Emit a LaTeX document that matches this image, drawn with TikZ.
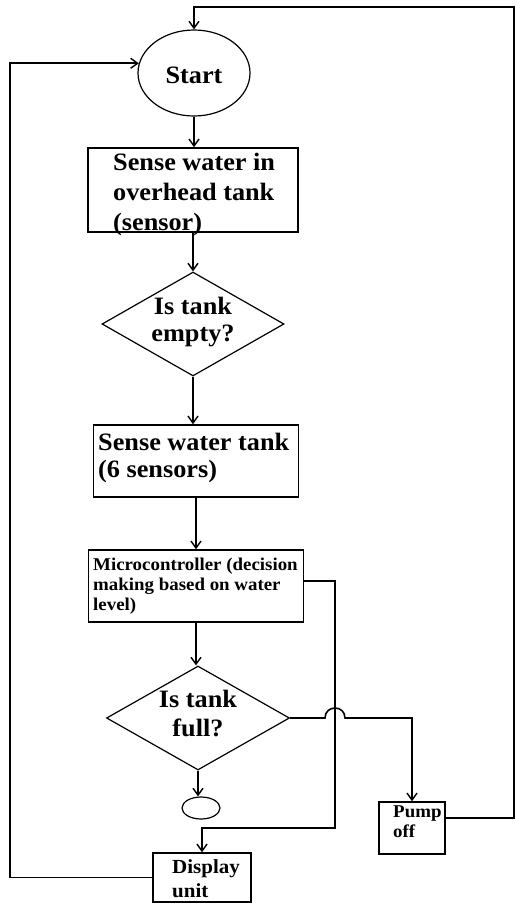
\documentclass[tikz,border=0pt]{standalone}
\usepackage{fontspec}
\setmainfont{Liberation Serif}[FakeStretch=1.05]
\usetikzlibrary{shapes.geometric,arrows.meta}
\begin{document}
\begin{tikzpicture}[x=1pt,y=-1pt,
  box/.style={draw, line width=1.5pt, rectangle, inner sep=0pt},
  dia/.style={draw, line width=1.2pt, diamond, inner sep=0pt},
  ell/.style={draw, line width=1.2pt, ellipse, inner sep=0pt},
  con/.style={line width=1.6pt},
  arr/.style={con, -{Straight Barb[length=7pt,width=10pt,line width=1.4pt]}},
  txt/.style={inner sep=0pt, align=left, anchor=north west},
  big/.style={font=\bfseries\fontsize{25}{30}\selectfont},
  mid/.style={font=\bfseries\fontsize{25}{27}\selectfont},
  small/.style={font=\bfseries\fontsize{18}{20}\selectfont}
]
\useasboundingbox (0,0) rectangle (516,905);
% shapes
\node[ell, minimum width=112pt, minimum height=86pt] (start) at (194,73) {};
\node[box, minimum width=210pt, minimum height=84pt] (b1) at (193,190) {};
\node[dia, minimum width=182pt, minimum height=104pt] (d1) at (193,324) {};
\node[box, minimum width=205pt, minimum height=72pt] (b2) at (196,461) {};
\node[box, minimum width=215pt, minimum height=72pt] (b3) at (196,586) {};
\node[dia, minimum width=183pt, minimum height=104pt] (d2) at (198,718) {};
\node[ell, minimum width=38pt, minimum height=22pt] (end) at (201,808) {};
\node[box, minimum width=66pt, minimum height=52pt] (pump) at (412,828) {};
\node[box, minimum width=98pt, minimum height=49pt] (disp) at (202,877.5) {};
% texts
\node[big, inner sep=0pt] (tstart) at (194,75) {Start};
\node[txt, big] (t1) at (113,153) {Sense water in\\overhead tank\\(sensor)};
\node[mid, inner sep=0pt, align=center] (td1) at (193,322) {Is tank\\empty?};
\node[txt, mid] (t2) at (98,433) {Sense water tank\\(6 sensors)};
\node[txt, small] (t3) at (93,558) {Microcontroller (decision\\making based on water\\level)};
\node[inner sep=0pt, align=center, font=\bfseries\fontsize{25}{29}\selectfont] (td2) at (198,713) {Is tank\\full?};
\node[txt, small] (tp) at (393,806) {Pump\\off};
\node[txt, font=\bfseries\fontsize{20}{24}\selectfont] (tdsp) at (172,859) {Display\\unit};
% connectors
\coordinate (R) at (514,7);
\coordinate (L) at (10,0);
\coordinate (V) at (335,828);
\draw[arr] (start.south) -- (start.south |- b1.north);
\draw[arr] (b1.south) -- (d1.north);
\draw[arr] (d1.south) -- (d1.south |- b2.north);
\draw[arr] (b2.south) -- (b3.north);
\draw[arr] (b3.south) -- (b3.south |- d2.north);
\draw[arr] (d2.south) -- (d2.south |- end.north);
\draw[arr] ([yshift=10pt]pump.east) -| (R) -| (start.north);
\draw[arr] (disp.west) -| (L |- start.170) -- (start.170);
\draw[arr] ([yshift=5pt]b3.east) -| (V) -| (disp.north);
\draw[arr] (d2.east) -- (325,718) .. controls (325,704.7) and (345,704.7) .. (345,718) -| (pump.north);
\end{tikzpicture}
\end{document}
